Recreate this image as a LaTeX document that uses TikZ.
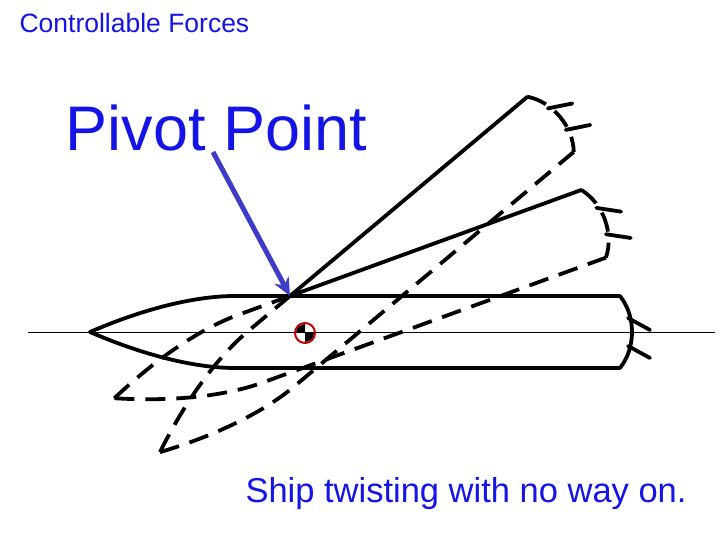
\documentclass[tikz,border=0pt]{standalone}
\usepackage{fontspec}
\setmainfont{Liberation Sans}
\usetikzlibrary{arrows.meta}
\definecolor{titleblue}{RGB}{20,20,230}
\definecolor{arrowblue}{RGB}{60,60,200}
\tikzset{
  hull/.style={line width=3.8pt, line cap=round, line join=round},
  ghost/.style={hull, dash pattern=on 20pt off 11pt, line cap=butt},
}
\newcommand{\bowtop}{(-200,-36) .. controls (-140,-10) and (-90,0) .. (-55,0)}
\newcommand{\bowbottom}{(-200,-36) .. controls (-140,-62) and (-90,-72) .. (-55,-72)}
\newcommand{\sternpart}{(330,0) .. controls (346,-20) and (346,-52) .. (330,-72)}
\begin{document}
\begin{tikzpicture}[x=1pt,y=1pt]
\useasboundingbox (0,0) rectangle (728,546);
% titles
\node[anchor=west, text=titleblue, font=\fontsize{26.5}{30}\selectfont] (title) at (16,523) {Controllable Forces};
\node[anchor=west, text=titleblue, font=\fontsize{63}{70}\selectfont] (pivotlabel) at (62,418) {Pivot Point};
\node[anchor=west, text=titleblue, font=\fontsize{34.5}{38}\selectfont] (caption) at (242,52) {Ship twisting with no way on.};
% centre line
\draw[line width=0.7pt] (28,214) -- (715,214);
% ship at rest
\begin{scope}[shift={(290,250)}]
  \draw[hull] \bowtop -- (330,0);
  \draw[hull] \bowbottom -- (330,-72);
  \draw[hull] \sternpart;
  \draw[hull] (338,-22) -- (360,-34) (338,-50) -- (360,-62);
\end{scope}
% swung ships
\foreach \ang in {20,40}{
  \begin{scope}[shift={(290,250)}, rotate=\ang]
    \draw[hull] (0,0) -- (310,0);
    \draw[ghost] \bowtop -- (0,0);
    \draw[ghost] \bowbottom -- (310,-72);
    \draw[ghost] (310,0) .. controls (326,-20) and (326,-52) .. (310,-72);
    \draw[hull] (318,-22) -- (340,-34) (318,-50) -- (340,-62);
  \end{scope}
}
% pivot point arrow
\coordinate (pivot) at (290,250);
\coordinate (arrowtail) at (213,394);
\draw[arrowblue, line width=5pt, -{Stealth[length=18pt,width=16pt]}] (arrowtail) -- (pivot);
% centre of gravity mark
\coordinate (cg) at (305,213);
\fill[black] (cg) -- ++(0,9) arc (90:180:9) -- cycle;
\fill[black] (cg) -- ++(0,-9) arc (270:360:9) -- cycle;
\draw[red!75!black, line width=2pt] (cg) circle (10);
\end{tikzpicture}
\end{document}
